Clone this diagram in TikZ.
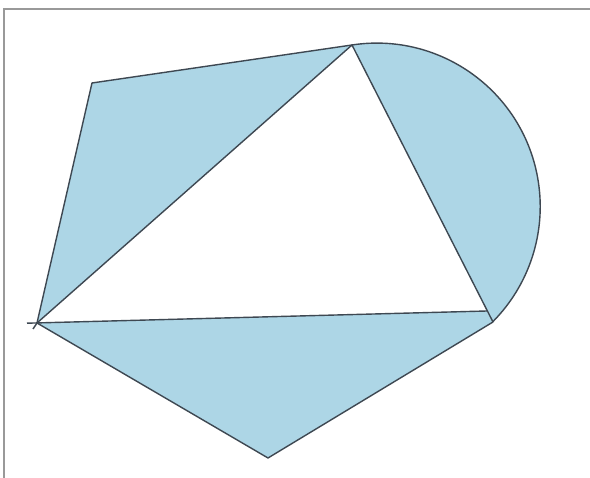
\documentclass[tikz,border=0pt]{standalone}
\begin{document}
\begin{tikzpicture}[x=1pt,y=1pt]
\definecolor{fillblue}{RGB}{173,214,230}
\definecolor{edgegray}{RGB}{62,72,82}
\tikzset{edge/.style={draw=edgegray, line width=1.4pt, line join=round},
  shade/.style={fill=fillblue},
  frame/.style={draw=black!40, line width=2pt}}
\fill[white] (0,0) rectangle (590,478);
\useasboundingbox (0,0) rectangle (590,478);
% frame
\coordinate (f1) at (4,0);
\coordinate (f2) at (4,469);
\coordinate (f3) at (590,469);
\draw[frame] (f1) -- (f2) -- (f3);
% vertices (y = 478 - image y)
\coordinate (A) at (37,155);
\coordinate (B) at (352,433);
\coordinate (P) at (487,167);
\coordinate (C) at (493,156);
\coordinate (D) at (92,395);
\coordinate (E) at (268,20);
\coordinate (As) at (27,154.8);
\coordinate (At) at (33,149);
% filled regions
\path[shade] (A) -- (D) -- (B) -- cycle;
\path[shade] (A) -- (P) -- (C) -- (E) -- cycle;
\path[shade] (B) arc[start angle=98.7, end angle=-44.85, radius=163.5] -- cycle;
% outlines
\draw[edge] (A) -- (D) -- (B);
\draw[edge] (B) arc[start angle=98.7, end angle=-44.85, radius=163.5];
\draw[edge] (A) -- (E) -- (C);
\draw[edge] (As) -- (P);
\draw[edge] (A) -- (B) -- (C);
\draw[edge] (A) -- (At);
\end{tikzpicture}
\end{document}
